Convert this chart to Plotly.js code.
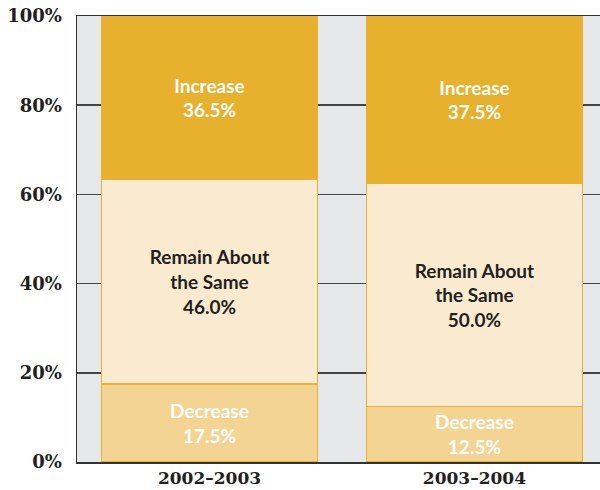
<!DOCTYPE html>
<html>
<head>
<meta charset="utf-8">
<script src="https://cdn.plot.ly/plotly-3.0.1.min.js"></script>
<style>
  html, body { margin: 0; padding: 0; background: #fff; }
  #graph { width: 600px; height: 490px; }
</style>
</head>
<body>
<div id="graph"></div>
<script>
// school years on the x axis
var years = ['2002\u20132003', '2003\u20132004'];

// share of answers, percent
var decrease = [17.5, 12.5];
var remain = [46.0, 50.0];
var increase = [36.5, 37.5];

var yTicks = [0, 20, 40, 60, 80, 100];

function segText(name, vals) {
    return vals.map(function (v) { return name + '<br>' + v.toFixed(1) + '%'; });
}

function segment(vals, name, fill, textColor) {
    return {
        type: 'bar',
        x: years,
        y: vals,
        name: name,
        width: 0.814,
        text: segText(name, vals),
        textposition: 'inside',
        insidetextanchor: 'middle',
        textangle: 0,
        textfont: { family: 'Lato, sans-serif', size: 19, weight: 'bold', color: textColor },
        marker: { color: fill, line: { color: '#e8b034', width: 1.5 } },
        hoverinfo: 'skip'
    };
}

var traces = [
    segment(decrease, 'Decrease', '#f4d492', '#ffffff'),
    segment(remain, 'Remain About<br>the Same', '#faebd0', '#231f20'),
    segment(increase, 'Increase', '#e7b02d', '#ffffff')
];

var serif = { family: 'DejaVu Serif, serif', size: 18, weight: 'bold', color: '#231f20' };

var layout = {
    width: 600,
    height: 490,
    barmode: 'stack',
    showlegend: false,
    hovermode: false,
    paper_bgcolor: '#ffffff',
    plot_bgcolor: '#e6e7e8',
    margin: { l: 77, r: 0, t: 16, b: 28 },
    xaxis: {
        range: [-0.5, 1.474],
        showgrid: false,
        zeroline: false,
        showline: true,
        mirror: true,
        linecolor: '#333333',
        linewidth: 1.5,
        ticks: '',
        tickfont: { family: 'DejaVu Serif, serif', size: 17, weight: 'bold', color: '#231f20' },
        ticklabelstandoff: 0,
        fixedrange: true
    },
    yaxis: {
        range: [0, 100],
        tickvals: yTicks,
        ticktext: yTicks.map(function (t) { return t + '%'; }),
        showgrid: true,
        gridcolor: '#444444',
        gridwidth: 1.5,
        zeroline: false,
        showline: true,
        linecolor: '#333333',
        linewidth: 1.5,
        ticks: '',
        tickfont: serif,
        ticklabelstandoff: 10,
        fixedrange: true
    }
};

Plotly.newPlot('graph', traces, layout, { displayModeBar: false, staticPlot: true });
</script>
</body>
</html>
